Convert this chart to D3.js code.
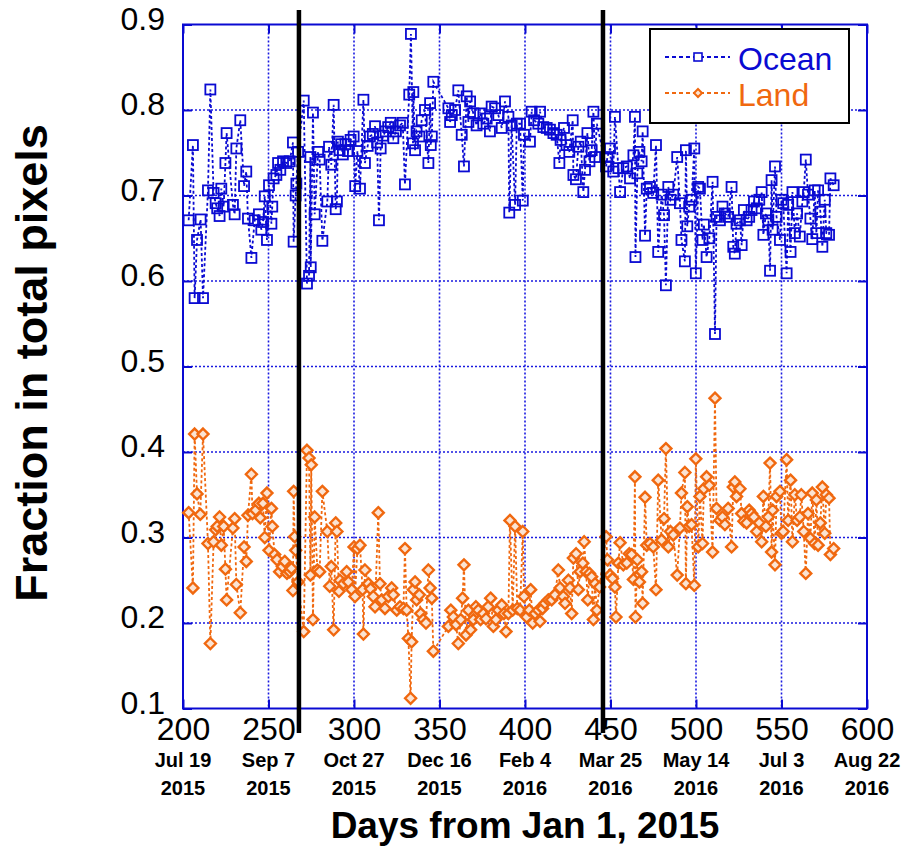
<!DOCTYPE html>
<html>
<head>
<meta charset="utf-8">
<script src="https://cdn.jsdelivr.net/npm/d3@7"></script>
<style>
  html, body { margin: 0; padding: 0; background: #fff; }
  svg { display: block; font-family: "Liberation Sans", Arial, Helvetica, sans-serif; }
</style>
</head>
<body>
<svg id="chart" width="904" height="846"></svg>
<script>
// ── Data (day from Jan 1 2015, fraction of pixels) ─────────────────────────────
var oceanData = [
  [203.3,0.671],[205.8,0.759],[206.8,0.58],[208.2,0.648],[210.3,0.672],[211.7,0.58],
  [214.6,0.706],[216,0.824],[217.9,0.703],[219.1,0.691],[220,0.685],[221.4,0.676],
  [222.4,0.708],[223.8,0.687],[224.8,0.738],[225.5,0.773],[229.2,0.689],[230.2,0.678],
  [231.2,0.755],[233.5,0.788],[235.7,0.711],[237,0.728],[238,0.673],[240,0.627],
  [241.9,0.671],[244.4,0.678],[245.8,0.66],[246.8,0.669],[247.8,0.699],[249.1,0.648],
  [250.3,0.712],[251.7,0.667],[252.2,0.687],[253,0.72],[254.6,0.724],[255.6,0.738],
  [256.9,0.73],[258.5,0.74],[260.4,0.738],[262.4,0.74],[264.3,0.762],[264.7,0.646],
  [265.9,0.7],[266.3,0.714],[267.3,0.751],[270.6,0.811],[272.5,0.597],[273.7,0.606],
  [274.5,0.745],[274.7,0.616],[276,0.797],[277,0.678],[279,0.751],[279.9,0.742],
  [281.5,0.647],[284.4,0.693],[285.4,0.757],[286.7,0.736],[288.1,0.806],[289.3,0.684],
  [290,0.693],[290.6,0.763],[291.6,0.753],[292.5,0.76],[293.5,0.748],[295,0.76],
  [296.5,0.752],[298,0.765],[299.8,0.769],[300.7,0.711],[302,0.752],[303.5,0.708],
  [305.5,0.812],[306.4,0.738],[308,0.758],[309.3,0.769],[311,0.772],[312.3,0.781],
  [313.5,0.762],[314.6,0.671],[315.6,0.755],[317,0.77],[318.5,0.775],[320,0.78],
  [321.5,0.785],[323,0.767],[324.5,0.775],[326.9,0.782],[328.5,0.785],[329.8,0.713],
  [332.3,0.818],[333.3,0.889],[334.5,0.761],[334.7,0.821],[335.7,0.753],[336.6,0.775],
  [338.2,0.769],[339.6,0.788],[341.5,0.8],[343.5,0.738],[344.5,0.808],[344.9,0.759],
  [345.5,0.769],[346.4,0.833],[355.2,0.802],[356.2,0.786],[357.2,0.794],[359.1,0.8],
  [361,0.823],[363,0.771],[364.3,0.734],[365.9,0.816],[366.9,0.786],[367.9,0.81],
  [369.8,0.796],[371.7,0.782],[373.7,0.796],[375.6,0.784],[377.6,0.79],[379.5,0.775],
  [380.5,0.804],[382.5,0.802],[384.4,0.794],[386.4,0.779],[388.3,0.81],[390.3,0.792],
  [390.8,0.68],[392.2,0.782],[394.2,0.689],[395.2,0.784],[397.1,0.784],[398.7,0.694],
  [399.4,0.771],[402.9,0.763],[403.9,0.798],[405.3,0.788],[407.8,0.784],[408.8,0.798],
  [410.7,0.78],[412.7,0.779],[414.6,0.777],[416.6,0.773],[418.5,0.771],[420.1,0.738],
  [420.8,0.765],[422.8,0.779],[424.3,0.759],[425.9,0.751],[427.9,0.788],[428.3,0.724],
  [429.8,0.719],[431.2,0.757],[432.6,0.763],[434.1,0.704],[435.1,0.73],[436.5,0.773],
  [437.7,0.74],[439,0.753],[440,0.798],[441,0.745],[442,0.784],[447.4,0.734],
  [448.2,0.745],[449.7,0.755],[451.6,0.728],[452.6,0.792],[454.6,0.732],[455.6,0.704],
  [457.5,0.732],[459.5,0.734],[461.4,0.72],[463.4,0.747],[464.3,0.792],[464.6,0.628],
  [465.7,0.726],[466.9,0.751],[468.2,0.74],[468.8,0.775],[470.2,0.653],[471.2,0.708],
  [473.1,0.71],[475,0.703],[476.6,0.759],[477.9,0.634],[479.9,0.701],[481.3,0.677],
  [482.4,0.595],[483.8,0.71],[485.1,0.695],[486.7,0.701],[489,0.745],[490.6,0.691],
  [491.5,0.648],[493.5,0.623],[494.1,0.753],[494.9,0.664],[496,0.687],[497.4,0.695],
  [499,0.755],[499.9,0.609],[501.3,0.71],[502.3,0.708],[503.8,0.648],[504.6,0.666],
  [506.2,0.628],[507.8,0.65],[509.7,0.716],[511.1,0.538],[512,0.675],[514,0.671],
  [515.5,0.687],[516.9,0.679],[518.8,0.675],[520.8,0.71],[521.8,0.64],[522.7,0.632],
  [523.7,0.667],[525.7,0.671],[526.7,0.642],[528,0.683],[529.6,0.671],[531.1,0.675],
  [532.5,0.683],[533.9,0.693],[535.5,0.685],[537,0.695],[538.4,0.704],[539.4,0.654],
  [540.9,0.679],[542.3,0.671],[543.3,0.612],[544.2,0.718],[544.8,0.66],[546.2,0.734],
  [547.1,0.675],[549.1,0.648],[550,0.695],[551,0.691],[553,0.609],[553.9,0.689],
  [555.3,0.634],[556.4,0.704],[557.8,0.656],[559.1,0.679],[560.7,0.652],[562.2,0.693],
  [563,0.704],[564.2,0.742],[565.5,0.701],[566.9,0.673],[568,0.649],[569.4,0.706],
  [570.4,0.656],[571.4,0.706],[572.7,0.681],[573.9,0.64],[575.3,0.695],[576.2,0.656],
  [577.8,0.654],[578.6,0.72],[580.5,0.712]
];

var landData = [
  [203.3,0.329],[205.8,0.241],[206.8,0.421],[208.2,0.351],[210.1,0.327],[211.7,0.421],
  [214.6,0.293],[216,0.176],[217.9,0.295],[219.1,0.309],[220,0.313],[221.4,0.324],
  [222.4,0.291],[223.8,0.313],[224.8,0.263],[225.5,0.227],[229.2,0.311],[230.2,0.322],
  [231.2,0.245],[233.5,0.212],[235.7,0.289],[237,0.272],[238,0.326],[240,0.374],
  [240.6,0.328],[242.5,0.332],[244.4,0.34],[245.2,0.323],[246.8,0.34],[247.8,0.3],
  [249.1,0.352],[250.3,0.285],[251.7,0.334],[252.2,0.313],[253.6,0.28],[255,0.274],
  [256.5,0.26],[258.1,0.266],[259.5,0.272],[260.8,0.258],[262.4,0.26],[263.4,0.264],
  [264.3,0.238],[264.7,0.354],[265.3,0.301],[265.9,0.285],[267.3,0.248],[270.6,0.19],
  [272.5,0.402],[273.7,0.393],[274.5,0.256],[275,0.385],[276,0.204],[277,0.324],
  [278.6,0.262],[279.9,0.26],[281.5,0.354],[284.4,0.307],[285.8,0.243],[286.7,0.266],
  [288.1,0.192],[289.3,0.317],[290,0.307],[291.2,0.237],[291.8,0.25],[293.8,0.246],
  [295.7,0.26],[296.7,0.248],[298.7,0.239],[300,0.289],[300.6,0.231],[302,0.287],
  [303.5,0.291],[305,0.239],[305.5,0.187],[306.4,0.262],[308.4,0.246],[309.7,0.24],
  [311.3,0.231],[312.3,0.219],[314.2,0.329],[315.2,0.246],[316.2,0.227],[318.1,0.217],
  [320.1,0.231],[322,0.241],[323,0.233],[325,0.215],[326.9,0.219],[328.9,0.217],
  [329.8,0.287],[330.8,0.215],[331.8,0.182],[333.1,0.112],[333.7,0.178],[334.7,0.239],
  [335.7,0.248],[336.6,0.227],[338.2,0.233],[339,0.211],[340.5,0.204],[342.1,0.2],
  [343.5,0.262],[344.5,0.241],[345.5,0.229],[346.4,0.167],[355.2,0.196],[356.6,0.215],
  [358.1,0.207],[359.7,0.198],[361,0.176],[362.4,0.204],[363.5,0.229],[364.3,0.268],
  [365.5,0.186],[366.9,0.215],[368.2,0.192],[369.8,0.204],[371.3,0.219],[372.7,0.215],
  [374,0.204],[375.6,0.211],[377.2,0.205],[378.5,0.219],[379.9,0.229],[381.5,0.196],
  [383,0.204],[384.4,0.215],[386.4,0.221],[387.7,0.211],[388.9,0.19],[390.3,0.211],
  [391.2,0.32],[392.8,0.215],[394.2,0.313],[395.5,0.217],[397.1,0.215],[398.7,0.307],
  [399.4,0.231],[401,0.207],[402.5,0.215],[403.3,0.239],[404.5,0.2],[405.9,0.211],
  [407.8,0.215],[408.8,0.202],[410.3,0.217],[411.7,0.223],[413.6,0.227],[415.6,0.227],
  [417.5,0.233],[419.5,0.262],[420.5,0.241],[422.4,0.231],[423.4,0.223],[425.4,0.25],
  [426.3,0.241],[427.3,0.211],[428.3,0.276],[429.9,0.281],[431.2,0.239],[432.2,0.26],
  [433.8,0.27],[434.6,0.295],[435.7,0.26],[436.7,0.227],[437.7,0.258],[439,0.254],
  [440,0.204],[441,0.246],[442,0.215],[443.6,0.242],[447.4,0.301],[448.2,0.274],
  [449.7,0.256],[451.2,0.252],[452.6,0.242],[453.2,0.207],[454.6,0.27],[455.6,0.294],
  [457.5,0.268],[459.5,0.27],[461,0.281],[462.4,0.28],[463.4,0.251],[464.3,0.371],
  [464.6,0.207],[465.7,0.274],[466.9,0.248],[468.2,0.26],[468.8,0.223],[470.2,0.347],
  [471.2,0.291],[473.1,0.293],[475,0.289],[476.6,0.239],[477.9,0.367],[479.9,0.297],
  [481.3,0.322],[482.4,0.404],[483.8,0.289],[485.1,0.307],[486.7,0.303],[489,0.256],
  [490.6,0.311],[491.5,0.352],[493.5,0.376],[494.1,0.246],[494.9,0.336],[496,0.313],
  [497.4,0.315],[499,0.244],[499.9,0.392],[501.3,0.289],[502.3,0.348],[503.8,0.293],
  [504.6,0.357],[506.2,0.371],[507.8,0.361],[509.7,0.283],[511.1,0.463],[512,0.334],
  [514,0.32],[515.5,0.324],[516.9,0.315],[518.8,0.334],[520.8,0.289],[521.8,0.359],
  [522.7,0.365],[523.7,0.348],[525.7,0.357],[526.7,0.328],[528,0.319],[529.6,0.317],
  [531.1,0.332],[532.5,0.328],[533.9,0.324],[535.5,0.307],[537,0.317],[538.4,0.295],
  [539.4,0.348],[540.9,0.313],[542.3,0.324],[543.3,0.387],[544.2,0.283],[544.8,0.332],
  [546.2,0.268],[547.1,0.348],[549.1,0.354],[550,0.305],[551,0.307],[553,0.391],
  [553.9,0.32],[555.3,0.367],[556.4,0.295],[557.8,0.35],[559.1,0.32],[560.7,0.324],
  [561.6,0.35],[563,0.307],[564.2,0.258],[565.5,0.328],[566.9,0.299],[568,0.352],
  [569.4,0.293],[570.4,0.344],[571.4,0.291],[572.7,0.317],[573.9,0.359],[575.3,0.305],
  [576.2,0.35],[577.8,0.346],[578.6,0.28],[580.5,0.287]
];

// Axis ticks and date labels
var xTicks = [200, 250, 300, 350, 400, 450, 500, 550, 600];
var yTicks = [0.1, 0.2, 0.3, 0.4, 0.5, 0.6, 0.7, 0.8, 0.9];
var dateLabels = [
  ["Jul 19", "2015"], ["Sep 7", "2015"], ["Oct 27", "2015"], ["Dec 16", "2015"],
  ["Feb 4", "2016"], ["Mar 25", "2016"], ["May 14", "2016"], ["Jul 3", "2016"],
  ["Aug 22", "2016"]
];
// Vertical markers (days)
var markerDays = [267.8, 445.6];

var seriesNames = ["Ocean", "Land"];

// ── Styles ───────────────────────────────────────────────────────────────────
var BLUE = "#0a0ad2";
var ORANGE = "#f0680f";
var GRID = "#1a1ae0";

var svg = d3.select("#chart");
var L = 183, R = 867, T = 24.5, B = 708.5;

var x = d3.scaleLinear().domain([200, 600]).range([L, R]);
var y = d3.scaleLinear().domain([0.1, 0.9]).range([B, T]);

// grid
var grid = svg.append("g").attr("stroke", GRID).attr("stroke-width", 1.6)
  .attr("stroke-dasharray", "2,2");
grid.selectAll("line.gx").data(xTicks.slice(1, -1)).join("line")
  .attr("x1", function (d) { return x(d); }).attr("x2", function (d) { return x(d); })
  .attr("y1", T).attr("y2", B);
grid.selectAll("line.gy").data(yTicks.slice(1, -1)).join("line")
  .attr("class", "gy")
  .attr("y1", function (d) { return y(d); }).attr("y2", function (d) { return y(d); })
  .attr("x1", L).attr("x2", R);

// axes
function styleAxis(g) {
  g.select(".domain").remove();
  g.selectAll(".tick line").attr("stroke", BLUE).attr("stroke-width", 2);
  g.selectAll(".tick text").attr("fill", "#000").style("font-size", "32px");
}
svg.append("g").attr("transform", "translate(0," + B + ")")
  .call(d3.axisBottom(x).tickValues(xTicks).tickSize(-9).tickPadding(9).tickFormat(d3.format("d")))
  .call(styleAxis);
svg.append("g").attr("transform", "translate(0," + T + ")")
  .call(d3.axisTop(x).tickValues(xTicks).tickSize(-9).tickFormat(""))
  .call(styleAxis);
var yAx = svg.append("g").attr("transform", "translate(" + L + ",0)")
  .call(d3.axisLeft(y).tickValues(yTicks).tickSize(-9).tickPadding(18).tickFormat(d3.format(".1f")))
  .call(styleAxis);
yAx.selectAll(".tick text").attr("dy", "0.15em");
svg.append("g").attr("transform", "translate(" + R + ",0)")
  .call(d3.axisRight(y).tickValues(yTicks).tickSize(-9).tickFormat(""))
  .call(styleAxis);

// frame
svg.append("rect").attr("x", L).attr("y", T).attr("width", R - L).attr("height", B - T)
  .attr("fill", "none").attr("stroke", BLUE).attr("stroke-width", 2);

// date labels under the tick numbers
var dl = svg.append("g").attr("font-weight", "bold").attr("font-size", 20)
  .attr("text-anchor", "middle");
dl.selectAll("text").data(dateLabels).join("text")
  .attr("transform", function (d, i) { return "translate(" + x(xTicks[i]) + ",0)"; })
  .each(function (d) {
    d3.select(this).append("tspan").attr("x", 0).attr("y", 767).text(d[0]);
    d3.select(this).append("tspan").attr("x", 0).attr("y", 795).text(d[1]);
  });

// titles
svg.append("text").attr("x", 525).attr("y", 838).attr("text-anchor", "middle")
  .attr("font-weight", "bold").attr("font-size", 37).text("Days from Jan 1, 2015");
svg.append("text").attr("transform", "translate(47,363) rotate(-90)")
  .attr("text-anchor", "middle").attr("font-weight", "bold").attr("font-size", 45)
  .text("Fraction in total pixels");

// series
var line = d3.line().x(function (d) { return x(d[0]); }).y(function (d) { return y(d[1]); });
var diamond = "M0,-5.5L5.5,0L0,5.5L-5.5,0Z";

svg.append("path").datum(oceanData).attr("d", line).attr("fill", "none")
  .attr("stroke", BLUE).attr("stroke-width", 1.8).attr("stroke-dasharray", "3,2.5");
svg.append("g").selectAll("rect").data(oceanData).join("rect")
  .attr("x", function (d) { return x(d[0]) - 5; }).attr("y", function (d) { return y(d[1]) - 5; })
  .attr("width", 10).attr("height", 10).attr("fill", "none")
  .attr("stroke", BLUE).attr("stroke-width", 1.8);

svg.append("path").datum(landData).attr("d", line).attr("fill", "none")
  .attr("stroke", ORANGE).attr("stroke-width", 1.8).attr("stroke-dasharray", "3,2.5");
svg.append("g").selectAll("path").data(landData).join("path")
  .attr("d", diamond)
  .attr("transform", function (d) { return "translate(" + x(d[0]) + "," + y(d[1]) + ")"; })
  .attr("fill", "#fbe3d2").attr("stroke", ORANGE).attr("stroke-width", 2.4);

// black vertical markers
svg.append("g").selectAll("line").data(markerDays).join("line")
  .attr("x1", function (d) { return x(d); }).attr("x2", function (d) { return x(d); })
  .attr("y1", 10).attr("y2", 733).attr("stroke", "#000").attr("stroke-width", 4.5);

// legend
var lg = svg.append("g");
lg.append("rect").attr("x", 650).attr("y", 29).attr("width", 199).attr("height", 94)
  .attr("fill", "#fff").attr("stroke", "#000").attr("stroke-width", 2);
var legendColors = [BLUE, ORANGE];
seriesNames.forEach(function (name, i) {
  var ly = 57 + i * 36;
  lg.append("line").attr("x1", 665).attr("x2", 730).attr("y1", ly).attr("y2", ly)
    .attr("stroke", legendColors[i]).attr("stroke-width", 1.8).attr("stroke-dasharray", "4,3");
  if (i === 0) {
    lg.append("rect").attr("x", 694).attr("y", ly - 4).attr("width", 8).attr("height", 8)
      .attr("fill", "#fff").attr("stroke", BLUE).attr("stroke-width", 1.6);
  } else {
    lg.append("path").attr("d", "M0,-4L4,0L0,4L-4,0Z").attr("transform", "translate(698," + ly + ")")
      .attr("fill", "#fbe3d2").attr("stroke", ORANGE).attr("stroke-width", 2);
  }
  lg.append("text").attr("x", 738).attr("y", ly + 13).attr("font-size", 32)
    .attr("fill", legendColors[i]).text(name);
});
</script>
</body>
</html>
